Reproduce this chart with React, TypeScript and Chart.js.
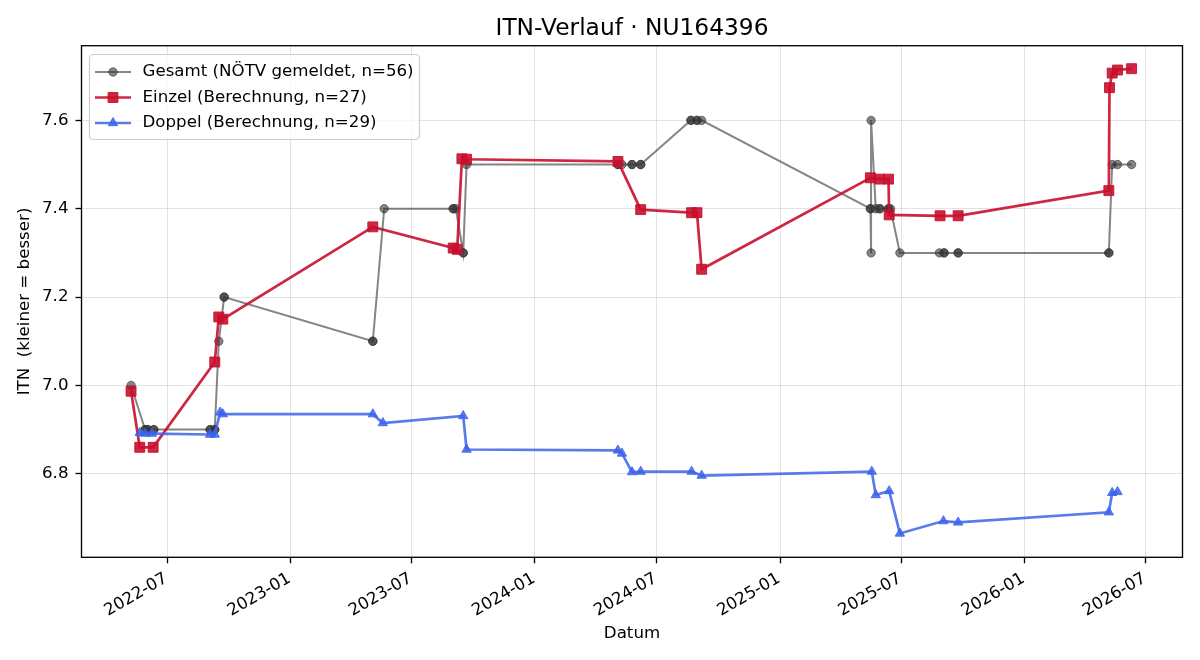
import React, { useEffect, useRef } from 'react';
import { Chart, registerables } from 'chart.js';

Chart.register(...registerables);

// ---------- data ----------
const gesamtDates = [
  '2022-05-08', '2022-05-29', '2022-05-29', '2022-06-02', '2022-06-02', '2022-06-11', '2022-06-11',
  '2022-09-03', '2022-09-03', '2022-09-10', '2022-09-10', '2022-09-16', '2022-09-24', '2022-09-24',
  '2023-05-04', '2023-05-04', '2023-05-21', '2023-09-01', '2023-09-01', '2023-09-05', '2023-09-16',
  '2023-09-16', '2023-09-21', '2024-05-04', '2024-05-04', '2024-05-10', '2024-05-25', '2024-05-25',
  '2024-06-07', '2024-06-07', '2024-08-21', '2024-08-21', '2024-08-30', '2024-08-30', '2024-09-06',
  '2025-05-16', '2025-05-16', '2025-05-17', '2025-05-17', '2025-05-24', '2025-05-30', '2025-05-30',
  '2025-06-12', '2025-06-12', '2025-06-15', '2025-06-29', '2025-08-27', '2025-09-03', '2025-09-03',
  '2025-09-24', '2025-09-24', '2026-05-07', '2026-05-07', '2026-05-12', '2026-05-20', '2026-06-10',
];
const gesamtValues = [
  7.0, 6.9, 6.9, 6.9, 6.9, 6.9, 6.9,
  6.9, 6.9, 6.9, 6.9, 7.1, 7.2, 7.2,
  7.1, 7.1, 7.4, 7.4, 7.4, 7.4, 7.3,
  7.3, 7.5, 7.5, 7.5, 7.5, 7.5, 7.5,
  7.5, 7.5, 7.6, 7.6, 7.6, 7.6, 7.6,
  7.4, 7.4, 7.3, 7.6, 7.4, 7.4, 7.4,
  7.4, 7.4, 7.4, 7.3, 7.3, 7.3, 7.3,
  7.3, 7.3, 7.3, 7.3, 7.5, 7.5, 7.5,
];

const einzelDates = [
  '2022-05-08', '2022-05-21', '2022-06-10', '2022-09-10', '2022-09-16', '2022-09-22', '2023-05-04',
  '2023-09-01', '2023-09-07', '2023-09-14', '2023-09-21', '2024-05-04', '2024-06-07', '2024-08-22',
  '2024-08-30', '2024-09-06', '2025-05-16', '2025-05-30', '2025-06-12', '2025-06-13', '2025-08-28',
  '2025-09-24', '2026-05-07', '2026-05-08', '2026-05-12', '2026-05-20', '2026-06-10',
];
const einzelValues = [
  6.987, 6.86, 6.86, 7.053, 7.155, 7.15, 7.359,
  7.311, 7.308, 7.513, 7.512, 7.507, 7.398, 7.391,
  7.391, 7.263, 7.47, 7.467, 7.467, 7.386, 7.384,
  7.384, 7.441, 7.674, 7.707, 7.714, 7.717,
];

const doppelDates = [
  '2022-05-21', '2022-05-29', '2022-06-08', '2022-09-03', '2022-09-10', '2022-09-18', '2022-09-22',
  '2023-05-04', '2023-05-19', '2023-09-16', '2023-09-21', '2024-05-04', '2024-05-10', '2024-05-25',
  '2024-06-07', '2024-08-22', '2024-09-06', '2025-05-18', '2025-05-24', '2025-06-13', '2025-06-29',
  '2025-09-02', '2025-09-24', '2026-05-07', '2026-05-12', '2026-05-20',
];
const doppelValues = [
  6.893, 6.891, 6.891, 6.889, 6.889, 6.939, 6.935,
  6.935, 6.915, 6.931, 6.855, 6.853, 6.846, 6.804,
  6.805, 6.805, 6.796, 6.805, 6.752, 6.761, 6.665,
  6.693, 6.69, 6.713, 6.757, 6.759,
];

const xTickDates = [
  '2022-07-01', '2023-01-01', '2023-07-01', '2024-01-01', '2024-07-01',
  '2025-01-01', '2025-07-01', '2026-01-01', '2026-07-01',
];
const xTickLabels = [
  '2022-07', '2023-01', '2023-07', '2024-01', '2024-07',
  '2025-01', '2025-07', '2026-01', '2026-07',
];
const yTicks = [6.8, 7.0, 7.2, 7.4, 7.6];
const xMinDate = '2022-02-23';
const xMaxDate = '2026-08-25';
const yMin = 6.611;
const yMax = 7.769;

const titleText = 'ITN-Verlauf · NU164396';
const xTitle = 'Datum';
const yTitle = 'ITN  (kleiner = besser)';
const labelGesamt = 'Gesamt (NÖTV gemeldet, n=56)';
const labelEinzel = 'Einzel (Berechnung, n=27)';
const labelDoppel = 'Doppel (Berechnung, n=29)';

// ---------- helpers ----------
const FONT = 'DejaVu Sans';
const ts = (s: string) => Date.parse(s + 'T00:00:00Z');
const toPoints = (dates: string[], values: number[]) =>
  dates.map((d, i) => ({ x: ts(d), y: values[i] }));

function drawMarker(ctx: CanvasRenderingContext2D, style: string, x: number, y: number, r: number) {
  ctx.beginPath();
  if (style === 'circle') {
    ctx.arc(x, y, r, 0, Math.PI * 2);
  } else if (style === 'rect') {
    const s = r * Math.SQRT1_2;
    ctx.rect(x - s, y - s, 2 * s, 2 * s);
  } else {
    let rad = 0;
    ctx.moveTo(x + Math.sin(rad) * r, y - Math.cos(rad) * r);
    rad += (2 * Math.PI) / 3;
    ctx.lineTo(x + Math.sin(rad) * r, y - Math.cos(rad) * r);
    rad += (2 * Math.PI) / 3;
    ctx.lineTo(x + Math.sin(rad) * r, y - Math.cos(rad) * r);
    ctx.closePath();
  }
  ctx.fill();
  ctx.stroke();
}

const decorPlugin = {
  id: 'mplDecor',
  afterDraw(chart: any) {
    const { ctx, chartArea } = chart;
    const { left, right, top, bottom } = chartArea;
    ctx.save();
    // spines
    ctx.strokeStyle = '#000';
    ctx.lineWidth = 1.33;
    ctx.strokeRect(left, top, right - left, bottom - top);
    // title
    ctx.fillStyle = '#000';
    ctx.font = `23.3px "${FONT}"`;
    ctx.textAlign = 'center';
    ctx.textBaseline = 'middle';
    ctx.fillText(titleText, (left + right) / 2, 28.5);
    // legend
    const bx = 89.5, by = 54.5, bw = 330, bh = 85;
    ctx.beginPath();
    (ctx as any).roundRect(bx, by, bw, bh, 4);
    ctx.fillStyle = 'rgba(255,255,255,0.8)';
    ctx.fill();
    ctx.strokeStyle = 'rgba(204,204,204,1)';
    ctx.lineWidth = 1.2;
    ctx.stroke();
    const rows = [72, 97.5, 123];
    chart.data.datasets.forEach((ds: any, i: number) => {
      const y = rows[i];
      ctx.strokeStyle = ds.borderColor;
      ctx.lineWidth = ds.borderWidth;
      ctx.beginPath();
      ctx.moveTo(95, y);
      ctx.lineTo(131, y);
      ctx.stroke();
      ctx.fillStyle = ds.pointBackgroundColor;
      ctx.strokeStyle = ds.pointBorderColor;
      ctx.lineWidth = ds.pointBorderWidth;
      drawMarker(ctx, ds.pointStyle, 113, y, ds.pointRadius);
      ctx.fillStyle = '#000';
      ctx.font = `16.67px "${FONT}"`;
      ctx.textAlign = 'left';
      ctx.textBaseline = 'middle';
      ctx.fillText(ds.label, 142.5, y);
    });
    ctx.restore();
  },
};

export default function App() {
  const canvasRef = useRef<HTMLCanvasElement | null>(null);

  useEffect(() => {
    if (!canvasRef.current) return;
    Chart.defaults.font.family = FONT;
    const gray = 'rgba(51,51,51,0.6)';
    const red = 'rgba(200,16,46,0.9)';
    const blue = 'rgba(60,100,235,0.85)';
    const gridColor = 'rgba(176,176,176,0.35)';

    const chart = new Chart(canvasRef.current, {
      type: 'line',
      data: {
        datasets: [
          {
            label: labelGesamt,
            data: toPoints(gesamtDates, gesamtValues),
            borderColor: gray,
            backgroundColor: gray,
            borderWidth: 2,
            pointStyle: 'circle',
            pointRadius: 4.2,
            pointBorderWidth: 1,
            pointBackgroundColor: gray,
            pointBorderColor: gray,
            order: 3,
          },
          {
            label: labelEinzel,
            data: toPoints(einzelDates, einzelValues),
            borderColor: red,
            backgroundColor: red,
            borderWidth: 2.7,
            pointStyle: 'rect',
            pointRadius: 7,
            pointBorderWidth: 1,
            pointBackgroundColor: red,
            pointBorderColor: red,
            order: 2,
          },
          {
            label: labelDoppel,
            data: toPoints(doppelDates, doppelValues),
            borderColor: blue,
            backgroundColor: blue,
            borderWidth: 2.7,
            pointStyle: 'triangle',
            pointRadius: 5.4,
            pointBorderWidth: 1,
            pointBackgroundColor: blue,
            pointBorderColor: blue,
            order: 1,
          },
        ] as any,
      },
      options: {
        responsive: false,
        animation: false,
        devicePixelRatio: 1,
        layout: { padding: { left: 0, right: 17.5, top: 45.7, bottom: 0 } },
        plugins: {
          legend: { display: false },
          tooltip: { enabled: false },
          title: { display: false },
        },
        scales: {
          x: {
            type: 'linear',
            min: ts(xMinDate),
            max: ts(xMaxDate),
            afterBuildTicks: (s: any) => {
              s.ticks = xTickDates.map((d) => ({ value: ts(d) }));
            },
            afterFit: (s: any) => {
              s.height = 102.7;
            },
            ticks: {
              autoSkip: false,
              minRotation: 30,
              maxRotation: 30,
              labelOffset: -1,
              padding: 5.5,
              color: '#000',
              font: { size: 16.67 },
              callback: (v: any) => {
                const i = xTickDates.findIndex((d) => ts(d) === v);
                return i >= 0 ? xTickLabels[i] : '';
              },
            },
            grid: {
              color: gridColor,
              lineWidth: 1,
              tickColor: '#000',
              tickLength: 6,
              tickWidth: 1.33,
            },
            border: { display: false },
            title: {
              display: true,
              text: xTitle,
              color: '#000',
              font: { size: 16.67 },
              padding: { top: 0, bottom: 16 },
            },
          },
          y: {
            type: 'linear',
            min: yMin,
            max: yMax,
            afterBuildTicks: (s: any) => {
              s.ticks = yTicks.map((v) => ({ value: v }));
            },
            afterFit: (s: any) => {
              s.width = 81.5;
            },
            ticks: {
              padding: 7,
              color: '#000',
              font: { size: 16.67 },
              callback: (v: any) => Number(v).toFixed(1),
            },
            grid: {
              color: gridColor,
              lineWidth: 1,
              tickColor: '#000',
              tickLength: 6,
              tickWidth: 1.33,
            },
            border: { display: false },
            title: {
              display: true,
              text: yTitle,
              color: '#000',
              font: { size: 16.67 },
              padding: { top: 14.5, bottom: 0 },
            },
          },
        },
      } as any,
      plugins: [decorPlugin],
    });
    return () => chart.destroy();
  }, []);

  return (
    <div style={{ position: 'fixed', left: 0, top: 0, width: 1200, height: 660, background: '#fff' }}>
      <canvas ref={canvasRef} width={1200} height={660} style={{ display: 'block' }} />
    </div>
  );
}
